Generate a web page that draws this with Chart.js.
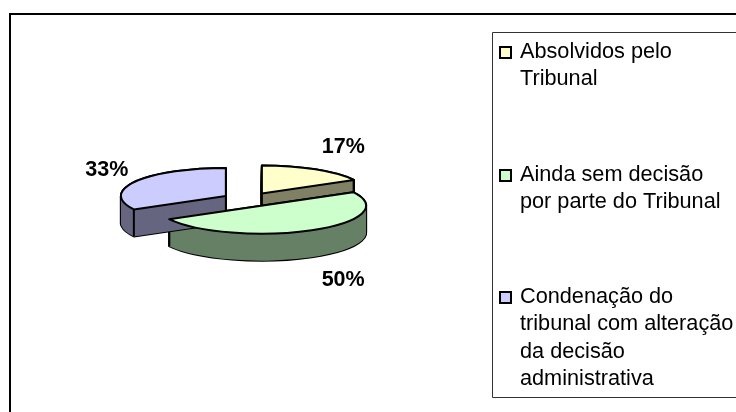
<!DOCTYPE html>
<html>
<head>
<meta charset="utf-8">
<style>html,body{margin:0;padding:0;background:#fff;overflow:hidden}canvas{display:block}</style>
<script src="https://cdn.jsdelivr.net/npm/chart.js@4"></script>
</head>
<body>
<canvas id="c" width="736" height="412"></canvas>
<script>
const categories = ["Absolvidos pelo Tribunal", "Ainda sem decisão por parte do Tribunal", "Condenação do tribunal com alteração da decisão administrativa"];
const values = [17, 50, 33];
const legendLines = [["Absolvidos pelo", "Tribunal"], ["Ainda sem decisão", "por parte do Tribunal"], ["Condenação do", "tribunal com alteração", "da decisão", "administrativa"]];
const topColors = ["#FFFFCC", "#CCFFCC", "#CCCCFF"];
const wallColors = ["#808066", "#668066", "#666680"];

const RADIUS = 105, SQUASH = 0.267, DEPTH = 27, EXPLODE = 26.3;
const labelDx = [81.5, 82, -119], labelDy = [-40, 80, -20];
const legendY = [58, 181, 303], LINE_H = 27.4;
const sansFont = '"Liberation Sans", Arial, sans-serif';

function place(arc) {
  const mid = (arc.startAngle + arc.endAngle) / 2;
  return { x: arc.x + Math.cos(mid) * EXPLODE, y: arc.y + Math.sin(mid) * EXPLODE * SQUASH };
}
function sector(ctx, arc, yShift) {
  const p = place(arc), y = p.y + yShift;
  ctx.beginPath();
  ctx.moveTo(p.x, y);
  ctx.ellipse(p.x, y, arc.outerRadius, arc.outerRadius * SQUASH, 0, arc.startAngle, arc.endAngle);
  ctx.closePath();
}
function drawWall(ctx, arc, color) {
  ctx.lineWidth = 2; ctx.strokeStyle = "#000"; ctx.lineJoin = "round";
  for (let i = DEPTH; i >= 0; i--) { sector(ctx, arc, i); ctx.stroke(); }
  ctx.fillStyle = color;
  for (let i = DEPTH; i >= 0; i--) { sector(ctx, arc, i); ctx.fill(); }
  const p = place(arc), rx = arc.outerRadius, ry = rx * SQUASH;
  ctx.beginPath();
  [arc.startAngle, arc.endAngle].forEach(a => {
    const x = p.x + Math.cos(a) * rx, y = p.y + Math.sin(a) * ry;
    ctx.moveTo(x, y); ctx.lineTo(x, y + DEPTH);
  });
  ctx.moveTo(p.x, p.y); ctx.lineTo(p.x, p.y + DEPTH);
  ctx.stroke();
}

const pie3d = {
  id: "pie3d",
  beforeDatasetDraw(chart, args) {
    const ctx = chart.ctx, arcs = args.meta.data;
    ctx.save();
    arcs.forEach((arc, i) => drawWall(ctx, arc, wallColors[i]));
    arcs.forEach(arc => {
      const p = place(arc);
      ctx.save();
      ctx.translate(p.x, p.y);
      ctx.scale(1, SQUASH);
      ctx.translate(-arc.x, -arc.y);
      arc.draw(ctx);
      ctx.restore();
      sector(ctx, arc, 0);
      ctx.lineWidth = 2; ctx.strokeStyle = "#000"; ctx.lineJoin = "round";
      ctx.stroke();
    });
    ctx.fillStyle = "#000";
    ctx.font = 'bold 21.5px ' + sansFont;
    ctx.textAlign = "center"; ctx.textBaseline = "alphabetic";
    arcs.forEach((arc, i) => {
      const p = place(arc);
      ctx.fillText(values[i] + "%", p.x + labelDx[i], p.y + labelDy[i]);
    });
    ctx.restore();
    return false;
  },
  afterDraw(chart) {
    const ctx = chart.ctx;
    ctx.save();
    ctx.strokeStyle = "#000"; ctx.lineWidth = 2;
    ctx.beginPath(); ctx.moveTo(10, 412); ctx.lineTo(10, 14); ctx.lineTo(736, 14); ctx.stroke();
    ctx.strokeStyle = "#333"; ctx.lineWidth = 1;
    ctx.beginPath(); ctx.moveTo(736, 32.5); ctx.lineTo(492.5, 32.5); ctx.lineTo(492.5, 397.5); ctx.lineTo(736, 397.5); ctx.stroke();
    ctx.font = '21.7px ' + sansFont;
    ctx.textAlign = "left"; ctx.textBaseline = "alphabetic";
    legendLines.forEach((lines, i) => {
      ctx.fillStyle = topColors[i]; ctx.strokeStyle = "#000"; ctx.lineWidth = 2;
      ctx.fillRect(500, legendY[i] - 11, 11, 11);
      ctx.strokeRect(500, legendY[i] - 11, 11, 11);
      ctx.fillStyle = "#000";
      lines.forEach((t, j) => ctx.fillText(t, 520, legendY[i] + j * LINE_H));
    });
    ctx.restore();
  }
};

new Chart(document.getElementById("c"), {
  type: "pie",
  data: { labels: categories, datasets: [{ data: values, backgroundColor: topColors, borderWidth: 0, clip: false }] },
  options: {
    responsive: false, animation: false, rotation: 0, radius: RADIUS,
    layout: { padding: { left: 0, top: 0, right: 239, bottom: 13 } },
    plugins: { legend: { display: false }, tooltip: { enabled: false }, title: { display: false } }
  },
  plugins: [pie3d]
});
</script>
</body>
</html>
